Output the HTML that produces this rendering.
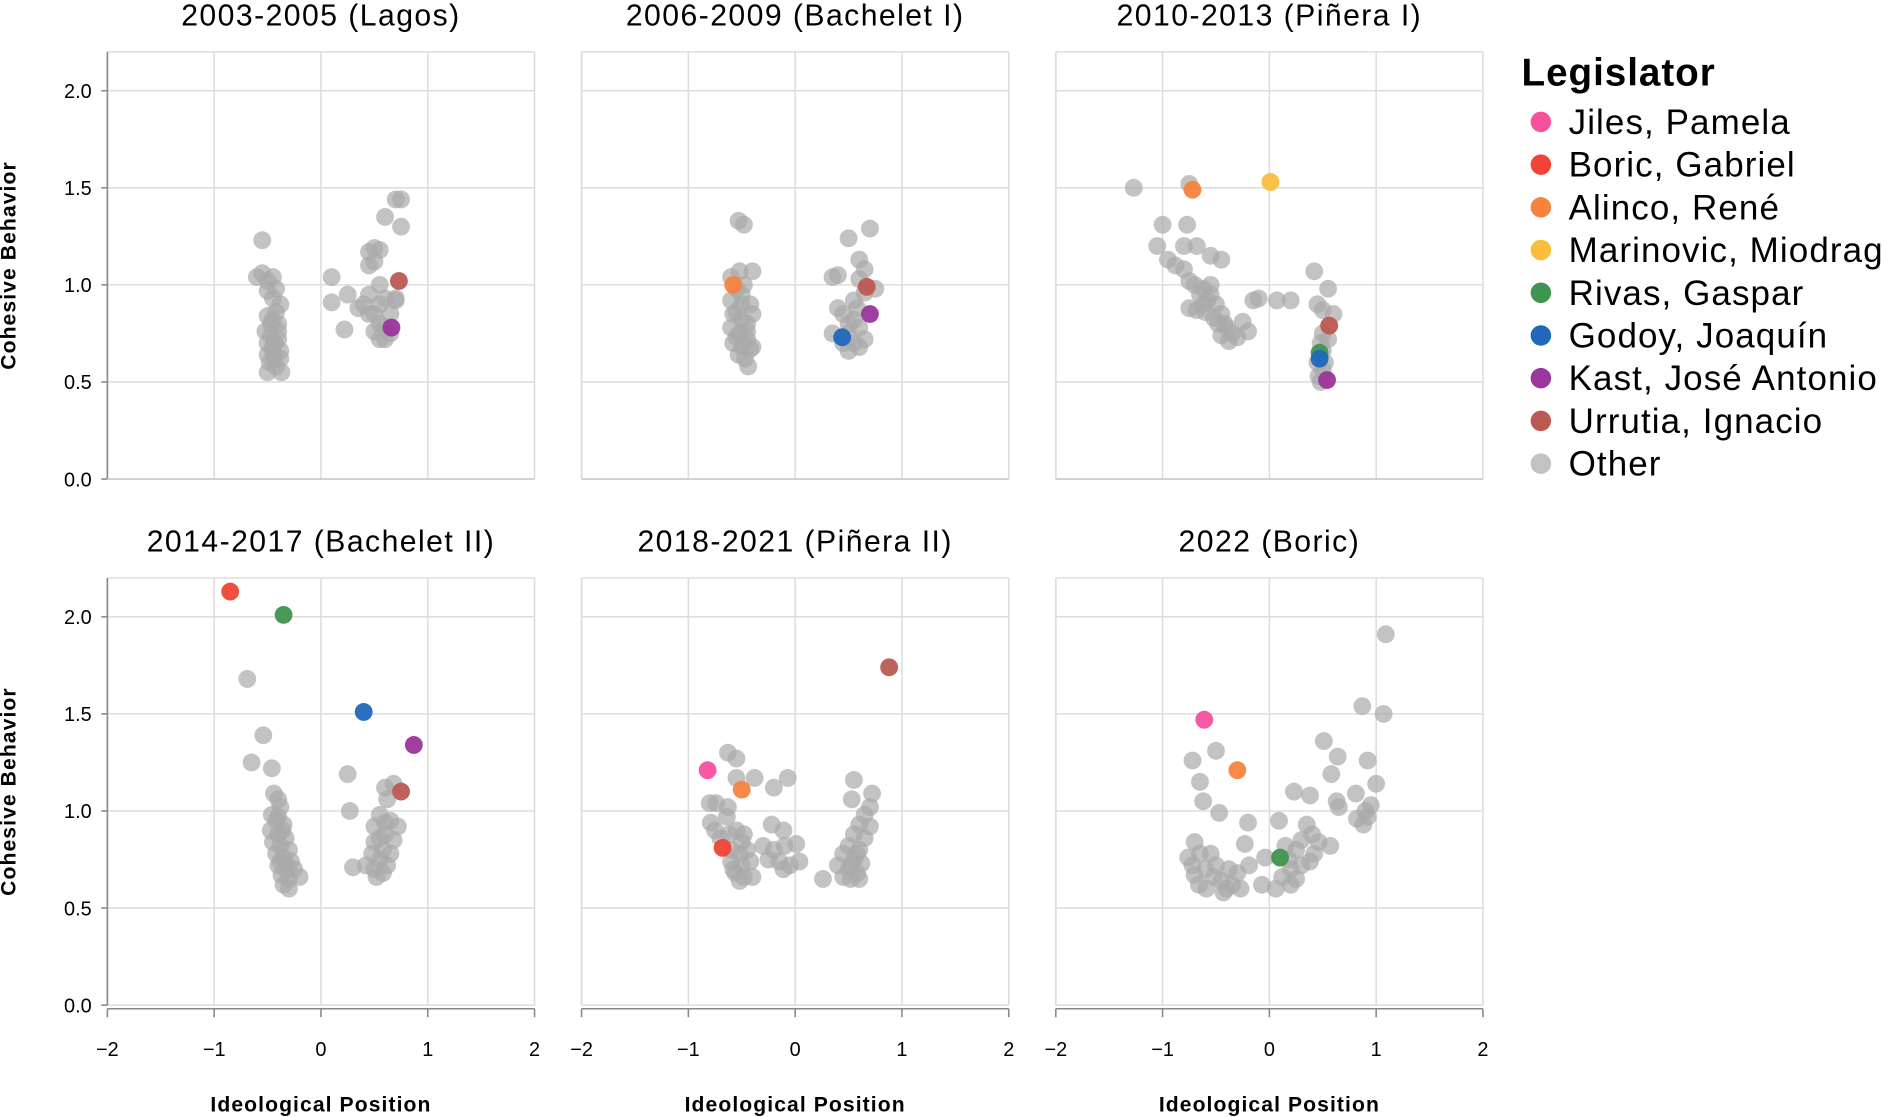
<!DOCTYPE html>
<html><head><meta charset="utf-8"><style>
html,body{margin:0;padding:0;background:#fff;}
svg{display:block;font-family:"Liberation Sans",Arial,sans-serif;}
</style></head><body>
<svg id="chart" width="1892" height="1117" viewBox="0 0 1568 925.7" preserveAspectRatio="none" xmlns="http://www.w3.org/2000/svg"></svg>
<script>
const panelTitles = ["2003-2005 (Lagos)","2006-2009 (Bachelet I)","2010-2013 (Piñera I)","2014-2017 (Bachelet II)","2018-2021 (Piñera II)","2022 (Boric)"];
const legendNames = ["Jiles, Pamela","Boric, Gabriel","Alinco, René","Marinovic, Miodrag","Rivas, Gaspar","Godoy, Joaquín","Kast, José Antonio","Urrutia, Ignacio","Other"];
const legendColors = ["#f7509f","#f04438","#f7843e","#f9bf3c","#3f9550","#1f68bb","#9a369c","#ba5a52","#c2c2c2"];
const xTicks = [-2,-1,0,1,2];
const yTicks = [0,0.5,1.0,1.5,2.0];
const highlights = [
 [[7,0.73,1.02],[6,0.66,0.78]],
 [[2,-0.58,1.0],[7,0.67,0.99],[6,0.7,0.85],[5,0.44,0.73]],
 [[2,-0.72,1.49],[3,0.01,1.53],[7,0.56,0.79],[4,0.47,0.65],[5,0.47,0.62],[6,0.54,0.51]],
 [[1,-0.85,2.13],[4,-0.35,2.01],[5,0.4,1.51],[6,0.87,1.34],[7,0.75,1.1]],
 [[7,0.88,1.74],[0,-0.82,1.21],[2,-0.5,1.11],[1,-0.68,0.81]],
 [[0,-0.61,1.47],[2,-0.3,1.21],[4,0.1,0.76]]
];
const other1 = [[-0.55,1.23],[-0.6,1.04],[-0.55,1.06],[-0.5,1.02],[-0.45,1.04],[-0.42,0.98],[-0.5,0.97],[-0.38,0.9],[-0.45,0.93],[-0.5,0.84],[-0.45,0.82],[-0.4,0.8],[-0.52,0.76],[-0.47,0.74],[-0.4,0.72],[-0.5,0.7],[-0.45,0.68],[-0.38,0.66],[-0.5,0.64],[-0.44,0.62],[-0.38,0.62],[-0.48,0.6],[-0.42,0.58],[-0.5,0.55],[-0.37,0.55],[-0.45,0.66],[-0.4,0.76],[-0.43,0.7],[-0.47,0.8],[-0.42,0.86],
 [0.1,1.04],[0.1,0.91],[0.25,0.95],[0.22,0.77],[0.35,0.88],[0.4,0.9],[0.45,1.1],[0.45,1.17],[0.5,1.19],[0.55,1.18],[0.6,1.35],[0.7,1.44],[0.75,1.44],[0.75,1.3],[0.55,1.0],[0.6,0.93],[0.7,0.93],[0.5,0.85],[0.55,0.8],[0.6,0.72],[0.65,0.75],[0.7,0.92],[0.45,0.85],[0.5,0.76],[0.55,0.72],[0.6,0.78],[0.65,0.85],[0.45,0.95],[0.55,0.9],[0.5,1.12]];
const other2 = [[-0.53,1.33],[-0.48,1.31],[-0.4,1.07],[-0.6,1.04],[-0.52,1.07],[-0.55,0.98],[-0.48,1.0],[-0.6,0.92],[-0.5,0.9],[-0.42,0.9],[-0.58,0.85],[-0.5,0.82],[-0.45,0.8],[-0.6,0.78],[-0.52,0.75],[-0.45,0.72],[-0.58,0.7],[-0.5,0.68],[-0.42,0.67],[-0.4,0.68],[-0.53,0.64],[-0.47,0.62],[-0.44,0.58],[-0.55,0.86],[-0.4,0.85],[-0.5,0.95],[-0.45,0.76],[-0.55,0.73],
 [0.5,1.24],[0.7,1.29],[0.6,1.13],[0.65,1.08],[0.35,1.04],[0.4,1.05],[0.75,0.98],[0.65,0.96],[0.55,0.92],[0.4,0.88],[0.45,0.85],[0.55,0.82],[0.6,0.78],[0.5,0.75],[0.35,0.75],[0.55,0.7],[0.6,0.68],[0.45,0.7],[0.65,0.72],[0.5,0.66],[0.6,1.03],[0.5,0.8],[0.58,0.88]];
const other3 = [[-1.27,1.5],[-0.75,1.52],[-1.0,1.31],[-0.77,1.31],[-1.05,1.2],[-0.8,1.2],[-0.68,1.2],[-0.95,1.13],[-0.88,1.1],[-0.8,1.08],[-0.55,1.15],[-0.45,1.13],[-0.75,1.02],[-0.7,1.0],[-0.62,0.98],[-0.55,1.0],[-0.65,0.95],[-0.58,0.92],[-0.5,0.9],[-0.75,0.88],[-0.68,0.87],[-0.6,0.86],[-0.52,0.83],[-0.45,0.85],[-0.48,0.8],[-0.4,0.78],[-0.45,0.74],[-0.35,0.75],[-0.38,0.71],[-0.3,0.73],[-0.2,0.76],[-0.25,0.81],[-0.15,0.92],[-0.1,0.93],[0.07,0.92],[0.2,0.92],[0.42,1.07],[0.55,0.98],[0.5,0.87],[0.6,0.85],[0.45,0.9],[0.5,0.75],[0.48,0.7],[0.5,0.66],[0.45,0.6],[0.5,0.56],[0.46,0.53],[0.52,0.6],[0.48,0.5],[0.55,0.72],[-0.55,0.95],[-0.42,0.8],[-0.62,0.9]];
const other4 = [[-0.69,1.68],[-0.54,1.39],[-0.65,1.25],[-0.46,1.22],[-0.44,1.09],[-0.4,1.06],[-0.38,1.02],[-0.46,0.98],[-0.42,0.95],[-0.35,0.93],[-0.47,0.9],[-0.4,0.88],[-0.33,0.86],[-0.45,0.84],[-0.38,0.82],[-0.3,0.8],[-0.42,0.78],[-0.35,0.76],[-0.28,0.74],[-0.4,0.72],[-0.33,0.7],[-0.25,0.7],[-0.37,0.67],[-0.3,0.65],[-0.2,0.66],[-0.35,0.62],[-0.3,0.6],[-0.38,0.74],[-0.36,0.9],[-0.32,0.72],[-0.4,0.97],
 [0.25,1.19],[0.27,1.0],[0.3,0.71],[0.6,1.12],[0.68,1.14],[0.62,1.06],[0.55,0.98],[0.65,0.95],[0.72,0.92],[0.5,0.92],[0.6,0.88],[0.68,0.85],[0.5,0.84],[0.58,0.8],[0.65,0.78],[0.48,0.78],[0.55,0.75],[0.62,0.72],[0.5,0.7],[0.58,0.68],[0.52,0.66],[0.42,0.72],[0.55,0.86],[0.6,0.94]];
const other5 = [[-0.63,1.3],[-0.55,1.27],[-0.55,1.17],[-0.38,1.17],[-0.2,1.12],[-0.07,1.17],[-0.8,1.04],[-0.74,1.04],[-0.63,1.02],[-0.64,0.97],[-0.79,0.94],[-0.75,0.9],[-0.7,0.86],[-0.62,0.88],[-0.55,0.9],[-0.48,0.88],[-0.6,0.8],[-0.52,0.78],[-0.45,0.8],[-0.6,0.74],[-0.5,0.72],[-0.42,0.74],[-0.56,0.68],[-0.48,0.66],[-0.4,0.66],[-0.52,0.64],[-0.58,0.7],[-0.5,0.84],
 [-0.22,0.93],[-0.11,0.9],[-0.3,0.82],[-0.2,0.8],[-0.1,0.82],[0.01,0.83],[-0.25,0.75],[-0.15,0.74],[0.04,0.74],[-0.11,0.7],[-0.05,0.72],
 [0.55,1.16],[0.53,1.06],[0.72,1.09],[0.7,1.02],[0.65,0.98],[0.6,0.93],[0.7,0.92],[0.55,0.88],[0.65,0.86],[0.5,0.82],[0.6,0.8],[0.45,0.78],[0.55,0.75],[0.62,0.73],[0.4,0.72],[0.5,0.7],[0.58,0.68],[0.45,0.66],[0.52,0.65],[0.6,0.65],[0.26,0.65],[0.58,0.78],[0.52,0.72]];
const other6 = [[1.09,1.91],[0.87,1.54],[1.07,1.5],[0.51,1.36],[0.64,1.28],[0.92,1.26],[-0.72,1.26],[-0.5,1.31],[0.58,1.19],[-0.65,1.15],[-0.62,1.05],[-0.47,0.99],[-0.2,0.94],[0.23,1.1],[0.38,1.08],[0.63,1.05],[1.0,1.14],[0.81,1.09],[0.65,1.02],[0.9,1.0],[0.82,0.96],[0.95,1.03],[0.88,0.93],[0.09,0.95],
 [-0.7,0.84],[-0.76,0.76],[-0.7,0.67],[-0.59,0.6],[-0.43,0.58],[-0.27,0.6],[-0.19,0.72],[-0.23,0.83],[-0.04,0.76],[-0.07,0.62],[0.06,0.6],[0.25,0.65],[0.38,0.74],[0.46,0.84],[0.57,0.82],[0.35,0.93],[0.25,0.8],
 [-0.65,0.78],[-0.6,0.7],[-0.52,0.66],[-0.45,0.64],[-0.35,0.62],[-0.5,0.72],[-0.38,0.7],[-0.3,0.68],[0.12,0.66],[0.2,0.7],[0.3,0.72],[0.15,0.82],[0.3,0.85],[0.42,0.78],[0.2,0.62],[-0.72,0.72],[-0.55,0.78],[-0.66,0.62],[-0.4,0.6],[0.18,0.75],[0.4,0.88],[0.92,0.97]];
const otherData = [other1,other2,other3,other4,other5,other6];

const NS = "http://www.w3.org/2000/svg";
const svg = document.getElementById('chart');
function mk(tag, attrs, parent){ const e=document.createElementNS(NS,tag); for(const k in attrs) e.setAttribute(k,attrs[k]); (parent||svg).appendChild(e); return e; }
const colLeft = [89,482,875], rowTop = [43,479], PW = 354, PH = 354;
const xMin=-2,xMax=2,yMin=0,yMax=2.2;

for(let p=0;p<6;p++){
  const col=p%3, row=Math.floor(p/3);
  const L=colLeft[col], T=rowTop[row];
  const xs=v=>L+(v-xMin)/(xMax-xMin)*PW;
  const ys=v=>T+PH-(v-yMin)/(yMax-yMin)*PH;
  const g=mk('g',{});
  
  
  const t=mk('text',{x:L+PW/2,y:T-22,'text-anchor':'middle','font-size':25,'letter-spacing':1.2,fill:'#000'},g);
  t.textContent=panelTitles[p];
  
  
  xTicks.forEach(v=>{ const l=mk('line',{x1:xs(v),x2:xs(v),y1:T,y2:T+PH,stroke:'#ddd','stroke-width':1.3},g);
      });
  yTicks.forEach(v=>{ const l=mk('line',{x1:L,x2:L+PW,y1:ys(v),y2:ys(v),stroke:'#ddd','stroke-width':1.3},g);
      });
  mk('line',{x1:L,x2:L+PW,y1:T,y2:T,stroke:'#ddd','stroke-width':1.3},g);
  if(col===0){
    const ya=mk('line',{x1:L,x2:L,y1:T,y2:T+PH,stroke:'#888','stroke-width':1.3},g);
     
    yTicks.forEach(v=>{ mk('line',{x1:L-5,x2:L,y1:ys(v),y2:ys(v),stroke:'#888','stroke-width':1.3},g);
      const tl=mk('text',{x:L-13,y:ys(v)+6,'text-anchor':'end','font-size':16.5,fill:'#000'},g); tl.textContent=v.toFixed(1);
        });
    const yt=mk('text',{transform:`translate(${L-76},${T+PH/2}) rotate(-90)`,'text-anchor':'middle','font-size':17.5,'letter-spacing':0.9,'font-weight':'bold',fill:'#000'},g);
    yt.textContent='Cohesive Behavior';
     
  } else {
    mk('line',{x1:L,x2:L,y1:T,y2:T+PH,stroke:'#ddd','stroke-width':1.3},g);
  }
  if(row===1){
    const xa=mk('line',{x1:L,x2:L+PW,y1:T+PH+3,y2:T+PH+3,stroke:'#888','stroke-width':1.3},g);
     
    xTicks.forEach(v=>{ mk('line',{x1:xs(v),x2:xs(v),y1:T+PH+3,y2:T+PH+10,stroke:'#888','stroke-width':1.3},g);
      const tl=mk('text',{x:xs(v),y:T+PH+42,'text-anchor':'middle','font-size':16.5,fill:'#000'},g); tl.textContent=v<0?'\u2212'+Math.abs(v):String(v);
        });
    const xt=mk('text',{x:L+PW/2,y:T+PH+88,'text-anchor':'middle','font-size':17.5,'letter-spacing':0.9,'font-weight':'bold',fill:'#000'},g);
    xt.textContent='Ideological Position';
     
  } else {
    mk('line',{x1:L,x2:L+PW,y1:T+PH,y2:T+PH,stroke:'#ccc','stroke-width':1.3},g);
  }
  otherData[p].forEach(d=>{ const c=mk('circle',{cx:xs(d[0]),cy:ys(d[1]),r:7.4,fill:'#a9a9a9','fill-opacity':0.7},g);
      });
  highlights[p].forEach(d=>{ const c=mk('circle',{cx:xs(d[1]),cy:ys(d[2]),r:7.4,fill:legendColors[d[0]],'fill-opacity':0.95},g);
      });
}
const lg=mk('g',{});


const lt=mk('text',{x:1261,y:71,'font-size':32,'font-weight':'bold','letter-spacing':0.8,fill:'#000'},lg);
lt.textContent='Legislator';


legendNames.forEach((n,i)=>{
  const y=101+i*35.4;
  const c=mk('circle',{cx:1277,cy:y,r:8.5,fill:legendColors[i]},lg);
  
  
  const t=mk('text',{x:1300,y:y+10,'font-size':29,'letter-spacing':0.9,fill:'#000'},lg);
  t.textContent=n;
  
  
});
</script>
</body></html>
